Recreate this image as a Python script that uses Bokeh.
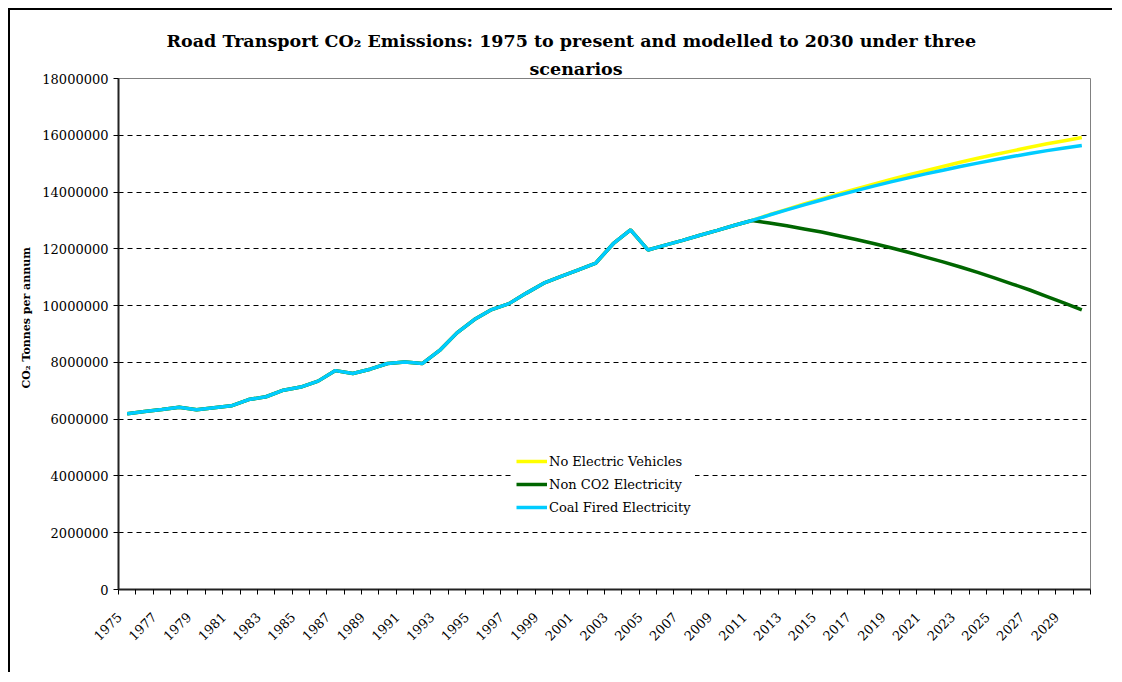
import math
from bokeh.plotting import figure
from bokeh.models import (Range1d, FixedTicker, NumeralTickFormatter,
                          Legend, LegendItem, Title)
from bokeh.embed import file_html
from bokeh.resources import INLINE

# ---------------- data ----------------
years = list(range(1975, 2031))

history_1975_2011 = [
    6190000, 6270000, 6340000, 6420000, 6330000, 6400000, 6470000, 6690000,
    6790000, 7020000, 7130000, 7340000, 7710000, 7610000, 7760000, 7960000,
    8010000, 7960000, 8420000, 9040000, 9510000, 9860000, 10070000, 10440000,
    10790000, 11030000, 11260000, 11500000, 12180000, 12670000, 11960000,
    12130000, 12300000, 12480000, 12650000, 12830000, 13000000,
]
no_ev_2012_2030 = [
    13200000, 13390000, 13580000, 13760000, 13940000, 14110000, 14280000,
    14440000, 14600000, 14750000, 14900000, 15050000, 15190000, 15320000,
    15450000, 15580000, 15700000, 15810000, 15920000,
]
non_co2_2012_2030 = [
    12910000, 12810000, 12700000, 12590000, 12460000, 12330000, 12190000,
    12040000, 11880000, 11710000, 11540000, 11360000, 11170000, 10970000,
    10760000, 10550000, 10320000, 10090000, 9850000,
]
coal_2012_2030 = [
    13190000, 13370000, 13550000, 13720000, 13890000, 14050000, 14210000,
    14360000, 14500000, 14640000, 14770000, 14900000, 15020000, 15140000,
    15250000, 15360000, 15460000, 15550000, 15640000,
]
series_names = ["No Electric Vehicles", "Non CO2 Electricity", "Coal Fired Electricity"]
y_ticks = list(range(0, 18000001, 2000000))
x_label_years = years[::2]
title_line1 = "Road Transport CO\u2082 Emissions: 1975 to present and modelled to 2030 under three"
title_line2 = "scenarios"
y_axis_title = "CO\u2082 Tonnes per annum"

no_ev = history_1975_2011 + no_ev_2012_2030
non_co2 = history_1975_2011 + non_co2_2012_2030
coal = history_1975_2011 + coal_2012_2030

FONT = "DejaVu Serif"

p = figure(width=1104, height=664,
           x_range=Range1d(1974.5, 2030.5), y_range=Range1d(0, 18000000),
           output_backend="svg", toolbar_location=None,
           min_border_left=108, min_border_right=24,
           min_border_top=68, min_border_bottom=85,
           background_fill_color="white", border_fill_color="white",
           margin=(8, 0, 0, 8),
           styles={"border-left": "2px solid #000", "border-top": "2px solid #000"})

p.outline_line_color = "#808080"
p.outline_line_width = 1

# title: the default title is the outer (first) line, the added one sits next to the frame
p.title.text = title_line1
p.title.align = "left"
p.title.offset = 48
p.title.standoff = 12
p.title.text_font = FONT
p.title.text_font_style = "bold"
p.title.text_font_size = "17.5px"
p.title.text_color = "black"

p.add_layout(Title(text=title_line2, align="left", offset=411, standoff=0,
                   text_font=FONT, text_font_style="bold", text_font_size="17.5px",
                   text_color="black"), "above")

# x axis: minor ticks at category boundaries, labels every other year
LABEL_SHIFT = 0.45  # rotated labels sit slightly left of the category centre
label_pos = [y - LABEL_SHIFT for y in x_label_years]
xax = p.xaxis[0]
xax.ticker = FixedTicker(ticks=label_pos,
                         minor_ticks=[y - 0.5 for y in years] + [years[-1] + 0.5])
xax.major_tick_in = 0
xax.major_tick_out = 0
xax.minor_tick_in = 0
xax.minor_tick_out = 5
xax.minor_tick_line_color = "black"
xax.axis_line_color = "#222222"
xax.axis_line_width = 2
xax.major_label_overrides = {pos: str(y) for pos, y in zip(label_pos, x_label_years)}
xax.major_label_orientation = math.pi / 4
xax.major_label_text_font = FONT
xax.major_label_text_font_size = "13px"
xax.major_label_text_color = "black"
xax.major_label_standoff = 20

yax = p.yaxis[0]
yax.ticker = FixedTicker(ticks=y_ticks, minor_ticks=[])
yax.formatter = NumeralTickFormatter(format="0")
yax.major_tick_in = 0
yax.major_tick_out = 5
yax.major_tick_line_color = "black"
yax.axis_line_color = "#222222"
yax.axis_line_width = 2
yax.major_label_text_font = FONT
yax.major_label_text_font_size = "13px"
yax.major_label_text_color = "black"
yax.major_label_standoff = 5

# y-axis title as a left-side title, placed a little above the frame centre
p.add_layout(Title(text=y_axis_title, align="left", offset=201, standoff=13,
                   text_font=FONT, text_font_style="bold", text_font_size="11px",
                   text_color="black"), "left")

p.xgrid.visible = False
p.ygrid.ticker = FixedTicker(ticks=y_ticks[1:-1])
p.ygrid.grid_line_color = "black"
p.ygrid.grid_line_width = 1
p.ygrid.grid_line_dash = "5 4"

r_y = p.line(years, no_ev, line_color="#FFFF00", line_width=3.5)
r_g = p.line(years, non_co2, line_color="#006600", line_width=3.5)
r_b = p.line(years, coal, line_color="#00CCFF", line_width=3.5)

legend = Legend(items=[LegendItem(label=series_names[0], renderers=[r_y]),
                       LegendItem(label=series_names[1], renderers=[r_g]),
                       LegendItem(label=series_names[2], renderers=[r_b])],
                location=(394, 68))
legend.label_text_font = FONT
legend.label_text_font_size = "13px"
legend.label_text_color = "black"
legend.glyph_width = 31
legend.glyph_height = 20
legend.label_height = 20
legend.label_standoff = 2
legend.spacing = 3
legend.padding = 4
legend.margin = 0
legend.border_line_alpha = 0
legend.background_fill_color = "white"
legend.background_fill_alpha = 1
p.add_layout(legend)

open("out.html", "w").write(file_html(p, INLINE))
